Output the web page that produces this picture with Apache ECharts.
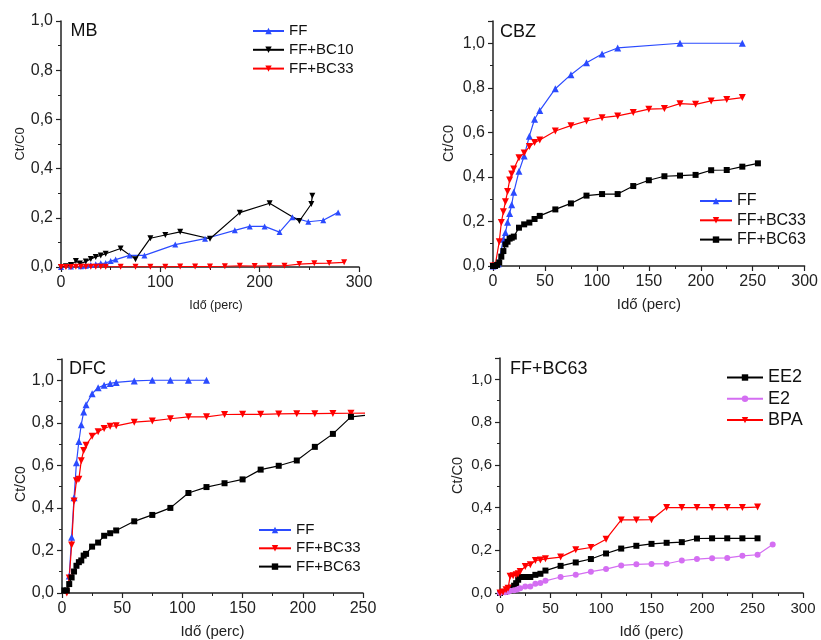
<!DOCTYPE html>
<html><head><meta charset="utf-8">
<script src="https://cdn.jsdelivr.net/npm/echarts@6/dist/echarts.min.js"></script>
<style>html,body{margin:0;padding:0;background:#fff}#c{width:821px;height:640px}</style>
</head><body><div id="c"></div>
<script>
// ---- MB panel ----
const mbTimeFF = [0, 10, 20, 25, 30, 35, 40, 45, 50, 55, 69, 84, 115, 145, 175, 190, 205, 220, 233, 249, 264, 279];
const mbFF = [0, 0.002, 0.003, 0.005, 0.008, 0.011, 0.015, 0.016, 0.024, 0.030, 0.047, 0.047, 0.091, 0.115, 0.149, 0.165, 0.165, 0.142, 0.202, 0.184, 0.190, 0.222];
const mbTimeBC10 = [0, 5, 10, 15, 19, 25, 30, 35, 40, 45, 60, 75, 90, 105, 120, 150, 180, 210, 240, 252, 253];
const mbBC10 = [0, 0.003, 0.008, 0.024, 0.014, 0.022, 0.033, 0.041, 0.047, 0.054, 0.075, 0.032, 0.117, 0.130, 0.143, 0.115, 0.221, 0.259, 0.187, 0.256, 0.290];
const mbTimeBC33 = [0, 5, 10, 15, 20, 25, 30, 35, 40, 45, 60, 75, 90, 105, 120, 135, 150, 165, 180, 195, 210, 225, 240, 255, 270, 285];
const mbBC33 = [0, 0, 0, 0.001, 0.001, 0.001, 0.001, 0.001, 0.001, 0.001, 0.001, 0.001, 0.001, 0.001, 0.002, 0.002, 0.002, 0.003, 0.005, 0.004, 0.005, 0.005, 0.012, 0.015, 0.016, 0.019];
// ---- CBZ panel ----
const cbzTimeFF = [0, 5, 10, 12, 14, 16, 18, 20, 25, 30, 35, 40, 45, 60, 75, 90, 105, 120, 180, 240];
const cbzFF = [0, 0.01, 0.12, 0.15, 0.196, 0.236, 0.275, 0.331, 0.425, 0.494, 0.583, 0.659, 0.698, 0.796, 0.859, 0.913, 0.952, 0.979, 1.0, 1.0];
const cbzTimeBC33 = [0, 2, 6, 8, 10, 12, 14, 16, 18, 20, 25, 30, 35, 40, 45, 60, 75, 90, 105, 120, 135, 150, 165, 180, 195, 210, 225, 240];
const cbzBC33 = [0, 0, 0.109, 0.195, 0.244, 0.289, 0.334, 0.386, 0.413, 0.435, 0.486, 0.507, 0.536, 0.554, 0.566, 0.606, 0.630, 0.651, 0.666, 0.674, 0.689, 0.704, 0.707, 0.729, 0.726, 0.741, 0.747, 0.756];
const cbzTimeBC63 = [0, 2, 4, 6, 8, 10, 12, 14, 16, 18, 20, 25, 30, 35, 40, 45, 60, 75, 90, 105, 120, 135, 150, 165, 180, 195, 210, 225, 240, 255];
const cbzBC63 = [0, 0, 0.005, 0.016, 0.042, 0.067, 0.097, 0.109, 0.123, 0.127, 0.132, 0.172, 0.187, 0.195, 0.211, 0.225, 0.254, 0.281, 0.316, 0.323, 0.323, 0.359, 0.385, 0.403, 0.406, 0.409, 0.430, 0.431, 0.446, 0.461];
// ---- DFC panel ----
const dfcTimeFF = [6, 8, 10, 12, 14, 16, 18, 20, 25, 30, 35, 40, 45, 60, 75, 90, 105, 120];
const dfcFF = [0.08, 0.262, 0.448, 0.612, 0.712, 0.791, 0.851, 0.885, 0.937, 0.965, 0.977, 0.985, 0.99, 0.997, 1.0, 1.0, 1.0, 1.0];
const dfcTimeBC33 = [4, 6, 8, 10, 12, 14, 16, 18, 20, 25, 30, 35, 40, 45, 60, 75, 90, 105, 120, 135, 150, 165, 180, 195, 210, 225, 240, 260];
const dfcBC33 = [0.0, 0.07, 0.226, 0.433, 0.528, 0.535, 0.622, 0.67, 0.695, 0.737, 0.758, 0.773, 0.784, 0.786, 0.803, 0.809, 0.819, 0.828, 0.828, 0.839, 0.84, 0.84, 0.842, 0.843, 0.843, 0.844, 0.845, 0.846];
const dfcTimeBC63 = [2, 4, 6, 8, 10, 12, 14, 16, 18, 20, 25, 30, 35, 40, 45, 60, 75, 90, 105, 120, 135, 150, 165, 180, 195, 210, 225, 240, 260];
const dfcBC63 = [0.012, 0.012, 0.042, 0.073, 0.101, 0.128, 0.145, 0.153, 0.176, 0.184, 0.218, 0.237, 0.269, 0.281, 0.294, 0.337, 0.367, 0.40, 0.47, 0.498, 0.516, 0.534, 0.58, 0.598, 0.623, 0.687, 0.748, 0.828, 0.840];
// ---- FF+BC63 panel ----
const bcTimeEE2 = [0, 5, 8, 10, 12, 14, 16, 18, 20, 25, 30, 35, 40, 45, 60, 75, 90, 105, 120, 135, 150, 165, 180, 195, 210, 225, 240, 255];
const bcEE2 = [0, 0.005, 0.012, 0.02, 0.025, 0.034, 0.046, 0.062, 0.075, 0.075, 0.075, 0.085, 0.09, 0.105, 0.127, 0.143, 0.159, 0.185, 0.208, 0.221, 0.23, 0.235, 0.238, 0.255, 0.256, 0.256, 0.256, 0.256];
const bcTimeE2 = [0, 5, 8, 10, 14, 17, 20, 25, 30, 35, 40, 45, 60, 75, 90, 105, 120, 135, 150, 165, 180, 195, 210, 225, 240, 255, 270];
const bcE2 = [0, 0.003, 0.006, 0.01, 0.013, 0.016, 0.022, 0.031, 0.031, 0.043, 0.047, 0.057, 0.075, 0.085, 0.10, 0.112, 0.129, 0.134, 0.136, 0.137, 0.152, 0.159, 0.163, 0.164, 0.174, 0.179, 0.227];
const bcTimeBPA = [0, 3, 6, 8, 10, 13, 16, 18, 20, 25, 30, 35, 40, 45, 60, 75, 90, 105, 120, 135, 150, 165, 180, 195, 210, 225, 240, 255];
const bcBPA = [0, 0.005, 0.015, 0.022, 0.078, 0.081, 0.085, 0.09, 0.101, 0.124, 0.132, 0.152, 0.155, 0.16, 0.168, 0.202, 0.213, 0.252, 0.342, 0.342, 0.343, 0.40, 0.40, 0.40, 0.40, 0.40, 0.40, 0.402];

const panelTitles = ['MB', 'CBZ', 'DFC', 'FF+BC63'];
const yTicks = ['0,0', '0,2', '0,4', '0,6', '0,8', '1,0'];
const xName = 'Idő (perc)';
const yName = 'Ct/C0';

const FONT = 'Liberation Sans, Arial, sans-serif';
const BLUE = '#2b4bff', RED = '#ff0000', BLACK = '#000000', VIOLET = '#d46ef2';
const DOWN = 'path://M0,0L2,0L1,2Z';
const zip = (t, v) => t.map((x, i) => [x, v[i]]);

const grids = [
  {left: 61, top: 21, width: 298, height: 246},
  {left: 493, top: 21, width: 314, height: 245},
  {left: 62, top: 359, width: 301, height: 234},
  {left: 500, top: 358, width: 303, height: 235}
];
const xCfg = [
  {max: 300, interval: 100, fs: 16, nameFs: 12.5, gap: 32, pad: [0, 0, 0, 12]},
  {max: 300, interval: 50, fs: 16, nameFs: 15, gap: 31, pad: 0},
  {max: 250, interval: 50, fs: 16, nameFs: 15, gap: 31, pad: 0},
  {max: 300, interval: 50, fs: 15, nameFs: 15, gap: 31, pad: 0}
];
const yCfg = [
  {max: 1.0, fs: 16, nameFs: 13, gap: 34, pad: 0},
  {max: 1.1, fs: 16, nameFs: 14.5, gap: 37, pad: 0},
  {max: 1.1, fs: 16, nameFs: 14, gap: 34, pad: [0, 16, 0, 0]},
  {max: 1.1, fs: 15, nameFs: 14.5, gap: 35, pad: 0}
];
const axisLine = {lineStyle: {color: '#222', width: 1.5}};
const xAxis = xCfg.map((c, i) => ({
  type: 'value', gridIndex: i, min: 0, max: c.max, interval: c.interval,
  name: xName, nameLocation: 'middle', nameGap: c.gap,
  nameTextStyle: {fontFamily: FONT, fontSize: c.nameFs, color: '#222', padding: c.pad},
  axisLine: axisLine, splitLine: {show: false},
  axisTick: {inside: false, length: 5, lineStyle: {color: '#222', width: 1.2}},
  minorTick: {show: true, splitNumber: 2, length: 3, lineStyle: {color: '#222', width: 1}},
  axisLabel: {fontFamily: FONT, fontSize: c.fs, color: '#222', margin: 8}
}));
const yAxis = yCfg.map((c, i) => ({
  type: 'value', gridIndex: i, min: 0, max: c.max, interval: 0.2,
  name: yName, nameLocation: 'middle', nameGap: c.gap,
  nameTextStyle: {fontFamily: FONT, fontSize: c.nameFs, color: '#222', padding: c.pad},
  axisLine: axisLine, splitLine: {show: false},
  axisTick: {inside: false, length: 5, lineStyle: {color: '#222', width: 1.2}},
  minorTick: {show: true, splitNumber: 2, length: 3, lineStyle: {color: '#222', width: 1}},
  axisLabel: {fontFamily: FONT, fontSize: c.fs, color: '#222', margin: 8,
    formatter: v => { const k = Math.round(v * 10); return (k % 2 === 0) ? yTicks[k / 2] : ''; }}
}));
function ser(name, gi, t, v, color, symbol, size) {
  return {
    name: name, type: 'line', xAxisIndex: gi, yAxisIndex: gi,
    data: zip(t, v), symbol: symbol, symbolSize: size, showSymbol: true,
    lineStyle: {color: color, width: 1.2}, itemStyle: {color: color},
    emphasis: {disabled: true}, clip: true, z: 3
  };
}
const series = [
  ser('FF', 0, mbTimeFF, mbFF, BLUE, 'triangle', 6),
  ser('FF+BC10', 0, mbTimeBC10, mbBC10, BLACK, DOWN, 6),
  ser('FF+BC33', 0, mbTimeBC33, mbBC33, RED, DOWN, 6),
  ser('FF', 1, cbzTimeFF, cbzFF, BLUE, 'triangle', 7),
  ser('FF+BC33', 1, cbzTimeBC33, cbzBC33, RED, DOWN, 7),
  ser('FF+BC63', 1, cbzTimeBC63, cbzBC63, BLACK, 'rect', 6),
  ser('FF', 2, dfcTimeFF, dfcFF, BLUE, 'triangle', 7),
  ser('FF+BC33', 2, dfcTimeBC33, dfcBC33, RED, DOWN, 7),
  ser('FF+BC63', 2, dfcTimeBC63, dfcBC63, BLACK, 'rect', 6),
  ser('EE2', 3, bcTimeEE2, bcEE2, BLACK, 'rect', 6),
  ser('E2', 3, bcTimeE2, bcE2, VIOLET, 'circle', 6),
  ser('BPA', 3, bcTimeBPA, bcBPA, RED, DOWN, 7)
];
const legendCfg = [
  {names: ['FF', 'FF+BC10', 'FF+BC33'], left: 252, top: 23.5, w: 31, fs: 15, gap: 3.8},
  {names: ['FF', 'FF+BC33', 'FF+BC63'], left: 699, top: 193, w: 32, fs: 16, gap: 3.3},
  {names: ['FF', 'FF+BC33', 'FF+BC63'], left: 258, top: 522.5, w: 32, fs: 15, gap: 3.3},
  {names: ['EE2', 'E2', 'BPA'], left: 726, top: 368.5, w: 36, fs: 18, gap: 3.3}
];
const legend = legendCfg.map(c => ({
  orient: 'vertical', left: c.left, top: c.top, padding: 0,
  itemWidth: c.w, itemHeight: 8, itemGap: c.gap, selectedMode: false,
  textStyle: {fontFamily: FONT, fontSize: c.fs, color: '#111'},
  data: c.names
}));
const titlePos = [{left: 70.5, top: 22}, {left: 500, top: 23}, {left: 69, top: 360}, {left: 510, top: 360}];
const title = panelTitles.map((t, i) => ({
  text: t, left: titlePos[i].left, top: titlePos[i].top, padding: 0,
  textStyle: {fontFamily: FONT, fontSize: 18, fontWeight: 'normal', color: '#111'}
}));

const chart = echarts.init(document.getElementById('c'), null, {renderer: 'canvas'});
chart.setOption({
  animation: false, backgroundColor: '#fff',
  title: title, legend: legend, grid: grids, xAxis: xAxis, yAxis: yAxis, series: series
});
</script></body></html>
